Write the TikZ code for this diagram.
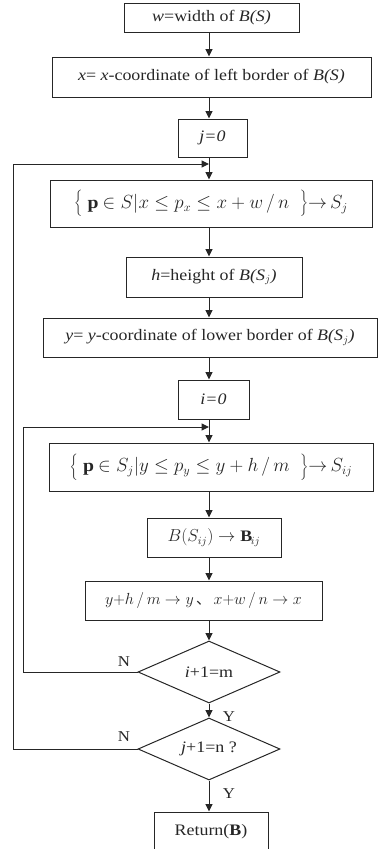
\documentclass[tikz,border=0pt]{standalone}
\usepackage{fontspec}
\setmainfont[FakeStretch=1.12]{Liberation Serif}
\newfontfamily\cjk{Noto Sans CJK SC}
\usetikzlibrary{arrows.meta,shapes.geometric}
\begin{document}
\begin{tikzpicture}[x=1pt,y=-1pt,
  line width=1pt,
  every node/.style={font=\fontsize{16}{19}\selectfont, text=black!85},
  box/.style={draw=black!85, rectangle, inner sep=0pt},
  dia/.style={draw=black!85, diamond, aspect=2.3, inner sep=0pt, minimum width=142pt, minimum height=62pt},
  arr/.style={draw=black!85, -{Triangle[length=7.5pt,width=7pt]}},
  lbl/.style={font=\fontsize{15}{18}\selectfont, inner sep=0pt}]
\useasboundingbox (0,0) rectangle (378,849);
\coordinate (ax) at (209,0);
\node[box, minimum width=175pt, minimum height=29pt] (b1) at (211.5,17.5) {\textit{w}=width of \textit{B(S)}};
\node[box, minimum width=319pt, minimum height=40pt] (b2) at (211.5,77) {\textit{x}= \textit{x}-coordinate of left border of \textit{B(S)}};
\node[box, minimum width=69pt, minimum height=38pt] (b3) at (212.5,138) {\textit{j=0}};
\node[box, minimum width=322pt, minimum height=47pt] (b4) at (211,203.5) {\scalebox{1.1}{$\bigg\{\;\mathbf{p}\in S\Big|x\le p_x\le x+w\,/\,n\;\;\bigg\}{\rightarrow}\,S_j$}};
\node[box, minimum width=176pt, minimum height=40pt] (b5) at (214,277) {\textit{h}=height of \textit{B(S}$_j$\textit{)}};
\node[box, minimum width=334pt, minimum height=39pt] (b6) at (210,337.5) {\textit{y}= \textit{y}-coordinate of lower border of \textit{B(S}$_j$\textit{)}};
\node[box, minimum width=71pt, minimum height=39pt] (b7) at (213.5,399.5) {\textit{i=0}};
\node[box, minimum width=324pt, minimum height=48pt] (b8) at (211,467) {\scalebox{1.1}{$\bigg\{\;\mathbf{p}\in S_j\Big|y\le p_y\le y+h\,/\,m\;\;\bigg\}{\rightarrow}\,S_{ij}$}};
\node[box, minimum width=134pt, minimum height=39pt] (b9) at (214,537.5) {$B(S_{ij})\rightarrow\mathbf{B}_{ij}$};
\node[box, minimum width=237pt, minimum height=39pt] (b10) at (203.5,600.5) {\scalebox{0.93}{$y{+}h\,/\,m\rightarrow y$\,{\cjk 、}\,$x{+}w\,/\,n\rightarrow x$}};
\node[dia] (d1) at (209,672) {\textit{i}+1=m};
\node[dia] (d2) at (209,749) {\textit{j}+1=n ?};
\node[box, minimum width=114pt, minimum height=40pt] (b11) at (211,832) {Return(\textbf{B})};
\coordinate (j1) at (209,164);
\coordinate (L1) at (13,164);
\coordinate (j2) at (209,427);
\coordinate (L2) at (23,427);
\draw[arr] (b1.south -| ax) -- (b2.north -| ax);
\draw[arr] (b2.south -| ax) -- (b3.north -| ax);
\draw[arr] (b3.south -| ax) -- (b4.north -| ax);
\draw[arr] (b4.south -| ax) -- (b5.north -| ax);
\draw[arr] (b5.south -| ax) -- (b6.north -| ax);
\draw[arr] (b6.south -| ax) -- (b7.north -| ax);
\draw[arr] (b7.south -| ax) -- (b8.north -| ax);
\draw[arr] (b8.south -| ax) -- (b9.north -| ax);
\draw[arr] (b9.south -| ax) -- (b10.north -| ax);
\draw[arr] (b10.south -| ax) -- (d1.north);
\draw[arr] (d1.south) -- (d2.north);
\draw[arr] (d2.south) -- (b11.north -| ax);
\draw[arr] (d1.west) -- (d1.west -| L2) -- (L2) -- (j2);
\draw[arr] (d2.west) -- (d2.west -| L1) -- (L1) -- (j1);
\node[lbl] (n1) at (124,662) {N};
\node[lbl] (n2) at (124,737) {N};
\node[lbl] (y1) at (229,717) {Y};
\node[lbl] (y2) at (229,794) {Y};
\end{tikzpicture}
\end{document}
